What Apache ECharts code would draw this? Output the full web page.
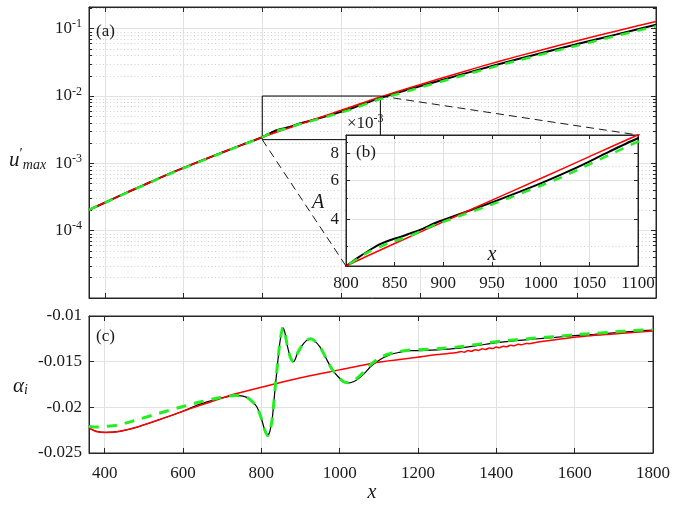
<!DOCTYPE html>
<html><head><meta charset="utf-8">
<script src="https://cdn.jsdelivr.net/npm/echarts@6/dist/echarts.min.js"></script>
<style>html,body{margin:0;padding:0;background:#fff}#c{width:673px;height:506px}</style>
</head><body><div id="c"></div>
<script>
// ---------------- data ----------------
// Panel (a)/(b): u'_max versus x
const ampXRed = [360,400,450,500,550,600,650,700,750,800,850,900,950,1000,1050,1100,1200,1300,1400,1500,1600,1700,1800];
const ampRed  = [2.04e-4,2.60e-4,3.55e-4,4.79e-4,6.46e-4,8.55e-4,1.122e-3,1.462e-3,1.897e-3,2.443e-3,3.097e-3,3.890e-3,4.887e-3,6.138e-3,7.727e-3,9.705e-3,0.01469,0.02203,0.03266,0.04677,0.06637,0.09268,0.1282];
const ampX     = [360,400,450,500,550,600,650,700,750,800,812,824,835,845,856,866,876,893,900,920,941,970,1000,1022,1044,1070,1100,1200,1300,1400,1500,1600,1700,1800];
const ampBlack = [2.04e-4,2.60e-4,3.55e-4,4.79e-4,6.46e-4,8.55e-4,1.122e-3,1.462e-3,1.897e-3,2.443e-3,2.661e-3,2.884e-3,3.076e-3,3.206e-3,3.319e-3,3.443e-3,3.573e-3,3.864e-3,3.963e-3,4.266e-3,4.613e-3,5.164e-3,5.834e-3,6.427e-3,7.129e-3,8.128e-3,9.376e-3,0.01393,0.02042,0.02965,0.04217,0.05916,0.08241,0.1143];
const ampGreen = [2.04e-4,2.59e-4,3.52e-4,4.74e-4,6.38e-4,8.45e-4,1.109e-3,1.445e-3,1.884e-3,2.443e-3,2.642e-3,2.844e-3,2.985e-3,3.126e-3,3.236e-3,3.365e-3,3.508e-3,3.802e-3,3.890e-3,4.188e-3,4.519e-3,5.047e-3,5.689e-3,6.237e-3,6.918e-3,7.852e-3,9.036e-3,0.01334,0.0195,0.02831,0.04027,0.05623,0.07852,0.1084];

// Panel (c): alpha_i versus x
const alphaXRed = [360,378,403,437,488,539,598,640,692,725,800,895,1000,1098,1199,1250,1300,1310,1318,1328,1336,1346,1354,1364,1372,1382,1390,1400,1408,1418,1426,1436,1444,1456,1464,1476,1484,1500,1600,1700,1800];
const alphaRed  = [-0.02227,-0.02264,-0.02275,-0.02264,-0.0221,-0.02136,-0.02045,-0.01983,-0.0191,-0.01863,-0.01779,-0.01681,-0.0159,-0.01506,-0.01451,-0.01422,-0.0140,-0.01389,-0.01396,-0.01379,-0.01387,-0.01369,-0.01377,-0.01359,-0.01367,-0.0135,-0.01357,-0.0134,-0.01348,-0.0133,-0.01337,-0.0132,-0.01327,-0.0131,-0.01316,-0.013,-0.01303,-0.0129,-0.01233,-0.01197,-0.01164];
const alphaX     = [360,380,400,437,488,539,598,640,692,733,750,767,788,800,808,816,822,828,835,842,848,855,860,866,874,882,886,892,903,915,925,935,950,965,980,995,1010,1020,1035,1050,1065,1080,1095,1110,1130,1150,1175,1200,1250,1300,1350,1400,1450,1500,1550,1600,1650,1700,1750,1800];
const alphaBlack = [-0.02227,-0.02264,-0.02275,-0.02264,-0.0221,-0.02136,-0.02045,-0.0197,-0.01905,-0.01871,-0.01874,-0.019,-0.01991,-0.0212,-0.0224,-0.0231,-0.0226,-0.0212,-0.018,-0.015,-0.0127,-0.0113,-0.0118,-0.0132,-0.0145,-0.015,-0.0148,-0.0141,-0.0133,-0.0127,-0.0125,-0.0127,-0.0134,-0.0146,-0.0158,-0.0166,-0.0172,-0.01735,-0.0172,-0.0168,-0.0162,-0.0155,-0.015,-0.0146,-0.0142,-0.014,-0.0138,-0.0138,-0.01371,-0.01355,-0.01325,-0.01292,-0.0127,-0.01252,-0.01234,-0.01215,-0.012,-0.01184,-0.01168,-0.01153];
const alphaGreen = [-0.0221,-0.02216,-0.0221,-0.02191,-0.02129,-0.02065,-0.01993,-0.01945,-0.01895,-0.01871,-0.01874,-0.019,-0.01991,-0.0212,-0.0224,-0.0231,-0.0226,-0.0212,-0.018,-0.015,-0.0127,-0.0113,-0.0118,-0.0132,-0.0145,-0.015,-0.0148,-0.0141,-0.0133,-0.0127,-0.0125,-0.0127,-0.0134,-0.0146,-0.0158,-0.0166,-0.0172,-0.0173,-0.0171,-0.0166,-0.0160,-0.0153,-0.0148,-0.0144,-0.0141,-0.0139,-0.01375,-0.0137,-0.01358,-0.0134,-0.01312,-0.01282,-0.0126,-0.01242,-0.01225,-0.01205,-0.0119,-0.01175,-0.0116,-0.01145];

// Tick values / axis ranges
const xTicks      = [400,600,800,1000,1200,1400,1600,1800];
const uMajorTicks = [1e-4,1e-3,1e-2,1e-1];
const alphaTicks  = [-0.025,-0.02,-0.015,-0.01];
const insetXTicks = [800,850,900,950,1000,1050,1100];
const insetYTicks = [4e-3,6e-3,8e-3];
const insetYMinor = [3e-3,5e-3,7e-3,9e-3];
const zoomBoxX = [800,1100];
const zoomBoxY = [2.25e-3,1e-2];
const insetYRange = [2.443e-3,9.705e-3];
const uMinorTicks = [];
[-5,-4,-3,-2,-1].forEach(e => { for (let m = 2; m <= 9; m++) { const v = m * Math.pow(10, e); if (v <= 0.21) uMinorTicks.push(v); } });

// ---------------- chart ----------------
const FONT = '"Liberation Serif","DejaVu Serif",serif';
const AX = '#262626', GRIDC = '#e2e2e2', MINOR = '#d0d0d0', LBL = '#1a1a1a';
const RED = '#ff0000', BLK = '#000000', GRN = '#22ee22';
const P = (xs, ys) => xs.map((x, i) => [x, ys[i]]);
const chart = echarts.init(document.getElementById('c'));

const lbl = {color: LBL, fontFamily: FONT, fontSize: 17};
const tick = (vals, len) => ({show: true, inside: true, length: len, customValues: vals, lineStyle: {color: AX, width: 1}});
const line = (show) => ({show: show, onZero: false, lineStyle: {color: AX, width: 1}});
const noLbl = {show: false};

const xAxis = [
  {gridIndex:0, type:'value', min:360, max:1800, position:'bottom', axisLine:line(true), axisTick:tick(xTicks,5), axisLabel:noLbl, splitLine:{show:true,lineStyle:{color:GRIDC}}},
  {gridIndex:0, type:'value', min:360, max:1800, position:'top', axisLine:line(true), axisTick:tick(xTicks,5), axisLabel:noLbl, splitLine:{show:false}},
  {gridIndex:1, type:'value', min:360, max:1800, position:'bottom', axisLine:line(true), axisTick:tick(xTicks,5),
   axisLabel:Object.assign({customValues:xTicks, margin:12, formatter: v => String(v)}, lbl), splitLine:{show:true,lineStyle:{color:GRIDC}}},
  {gridIndex:1, type:'value', min:360, max:1800, position:'top', axisLine:line(true), axisTick:tick(xTicks,5), axisLabel:noLbl, splitLine:{show:false}},
  {gridIndex:2, zlevel:1, type:'value', min:800, max:1100, position:'bottom', axisLine:line(true), axisTick:tick(insetXTicks,4),
   axisLabel:Object.assign({customValues:insetXTicks, margin:9, formatter: v => String(v)}, lbl), splitLine:{show:true,lineStyle:{color:GRIDC}}},
  {gridIndex:2, zlevel:1, type:'value', min:800, max:1100, position:'top', axisLine:line(true), axisTick:tick(insetXTicks,4), axisLabel:noLbl, splitLine:{show:false}}
];

const supRich = {
  b: {fontFamily: FONT, fontSize: 17, color: LBL},
  s: {fontFamily: FONT, fontSize: 12, color: LBL, padding: [0, 0, 9, 0]}
};
const logBase = {type:'log', logBase:10, min:1e-5, max:0.21};
const yAxis = [
  Object.assign({gridIndex:0, position:'left', axisLine:line(true), axisTick:tick(uMajorTicks,5),
    axisLabel:{customValues:uMajorTicks, margin:7, formatter: v => '{b|10}{s|' + Math.round(Math.log10(v)) + '}', rich: supRich},
    splitLine:{show:true,lineStyle:{color:GRIDC}}}, logBase),
  Object.assign({gridIndex:0, position:'left', axisLine:line(false), axisTick:tick(uMinorTicks,3), axisLabel:noLbl,
    splitLine:{show:true,lineStyle:{color:MINOR, width:1, type:[1,2.5]}}}, logBase),
  Object.assign({gridIndex:0, position:'right', axisLine:line(true), axisTick:tick(uMajorTicks,5), axisLabel:noLbl, splitLine:{show:false}}, logBase),
  Object.assign({gridIndex:0, position:'right', axisLine:line(false), axisTick:tick(uMinorTicks,3), axisLabel:noLbl, splitLine:{show:false}}, logBase),
  {gridIndex:1, type:'value', min:-0.025, max:-0.01, position:'left', axisLine:line(true), axisTick:tick(alphaTicks,5),
    axisLabel:Object.assign({customValues:alphaTicks, margin:7, formatter: v => String(v)}, lbl), splitLine:{show:true,lineStyle:{color:GRIDC}}},
  {gridIndex:1, type:'value', min:-0.025, max:-0.01, position:'right', axisLine:line(true), axisTick:tick(alphaTicks,5), axisLabel:noLbl, splitLine:{show:false}},
  {gridIndex:2, zlevel:1, type:'log', logBase:10, min:insetYRange[0], max:insetYRange[1], position:'left', axisLine:line(true), axisTick:tick(insetYTicks,4),
    axisLabel:Object.assign({customValues:insetYTicks, margin:7, formatter: v => String(Math.round(v * 1000))}, lbl), splitLine:{show:true,lineStyle:{color:GRIDC}}},
  {gridIndex:2, zlevel:1, type:'log', logBase:10, min:insetYRange[0], max:insetYRange[1], position:'left', axisLine:line(false), axisTick:tick(insetYMinor,2),
    axisLabel:noLbl, splitLine:{show:true,lineStyle:{color:MINOR,width:1,type:[1,2.5]}}},
  {gridIndex:2, zlevel:1, type:'log', logBase:10, min:insetYRange[0], max:insetYRange[1], position:'right', axisLine:line(true), axisTick:tick(insetYTicks,4), axisLabel:noLbl, splitLine:{show:false}},
  {gridIndex:2, zlevel:1, type:'log', logBase:10, min:insetYRange[0], max:insetYRange[1], position:'right', axisLine:line(false), axisTick:tick(insetYMinor,2), axisLabel:noLbl, splitLine:{show:false}}
];

const ser = (xi, yi, data, color, width, dash, extra) => Object.assign({
  type:'line', xAxisIndex:xi, yAxisIndex:yi, data:data, showSymbol:false, symbol:'none', silent:true,
  smooth:0.25, lineStyle:{color:color, width:width, type:dash || 'solid'}
}, extra || {});

const series = [
  ser(0,0,P(ampX,ampBlack),BLK,2,null,{markArea:{silent:true, itemStyle:{color:'rgba(0,0,0,0)', borderColor:'#000', borderWidth:1},
      data:[[{coord:[zoomBoxX[0],zoomBoxY[0]]},{coord:[zoomBoxX[1],zoomBoxY[1]]}]]}}),
  ser(0,0,P(ampXRed,ampRed),RED,1.5),
  ser(0,0,P(ampX,ampGreen),GRN,2.5,[9,8]),
  ser(2,4,P(alphaX,alphaBlack),BLK,1.2),
  ser(2,4,P(alphaXRed,alphaRed),RED,1.5),
  ser(2,4,P(alphaX,alphaGreen),GRN,3,[10,8]),
  ser(4,6,P(ampX,ampBlack),BLK,2,null,{zlevel:1}),
  ser(4,6,P(ampXRed,ampRed),RED,1.5,null,{zlevel:1}),
  ser(4,6,P(ampX,ampGreen),GRN,2.5,[9,8],{zlevel:1})
];

const T = (text, x, y, opt) => Object.assign({type:'text', x:x, y:y, zlevel:1, z:50, silent:true,
  style:Object.assign({text:text, fill:LBL, fontFamily:FONT, fontSize:17, align:'left', verticalAlign:'middle'}, (opt && opt.style) || {})},
  opt && opt.el ? opt.el : {});

const texts = [
  T('(a)', 96, 32),
  T('(b)', 356, 153),
  T('(c)', 96, 337),
  T('{u|u}{p|′}{s|max}', 9, 160, {style:{rich:{
      u:{fontFamily:FONT, fontSize:21, fontStyle:'italic', fill:LBL},
      p:{fontFamily:FONT, fontSize:15, fill:LBL, padding:[0,0,12,0]},
      s:{fontFamily:FONT, fontSize:14, fontStyle:'italic', fill:LBL, padding:[10,0,0,0]}}}}),
  T('{a|α}{s|i}', 13, 386, {style:{rich:{
      a:{fontFamily:FONT, fontSize:21, fontStyle:'italic', fill:LBL},
      s:{fontFamily:FONT, fontSize:14, fontStyle:'italic', fill:LBL, padding:[9,0,0,0]}}}}),
  T('x', 372, 493, {style:{align:'center', fontStyle:'italic', fontSize:20}}),
  T('A', 318, 203, {style:{align:'center', fontStyle:'italic', fontSize:20}}),
  T('x', 492, 255, {style:{align:'center', fontStyle:'italic', fontSize:20}}),
  T('{b|×10}{s|-3}', 347, 124, {style:{rich:{
      b:{fontFamily:FONT, fontSize:17, fill:LBL},
      s:{fontFamily:FONT, fontSize:12, fill:LBL, padding:[0,0,10,0]}}}})
];

chart.setOption({
  animation:false,
  backgroundColor:'#fff',
  textStyle:{fontFamily:FONT},
  grid:[
    {left:89, top:7, width:567, height:291, show:true, backgroundColor:'#fff', borderColor:AX, borderWidth:1},
    {left:89, top:316, width:567, height:137, show:true, backgroundColor:'#fff', borderColor:AX, borderWidth:1},
    {left:346, top:135, width:292, height:131, show:true, backgroundColor:'#fff', borderColor:AX, borderWidth:1, zlevel:1}
  ],
  xAxis:xAxis, yAxis:yAxis, series:series, graphic:texts
});

// dashed connectors from the zoom box to the inset
const a1 = chart.convertToPixel({xAxisIndex:0, yAxisIndex:0}, [zoomBoxX[0], zoomBoxY[0]]);
const a2 = chart.convertToPixel({xAxisIndex:4, yAxisIndex:6}, [zoomBoxX[0], insetYRange[0]]);
const b1 = chart.convertToPixel({xAxisIndex:0, yAxisIndex:0}, [zoomBoxX[1], zoomBoxY[1]]);
const b2 = chart.convertToPixel({xAxisIndex:4, yAxisIndex:6}, [zoomBoxX[1], insetYRange[1]]);
const conn = (p, q) => ({type:'line', zlevel:1, z:40, silent:true, shape:{x1:p[0], y1:p[1], x2:q[0], y2:q[1]},
  style:{stroke:'#000', lineWidth:0.9, lineDash:[8,5]}});
chart.setOption({graphic: texts.concat([conn(a1, a2), conn(b1, b2)])});
</script></body></html>
